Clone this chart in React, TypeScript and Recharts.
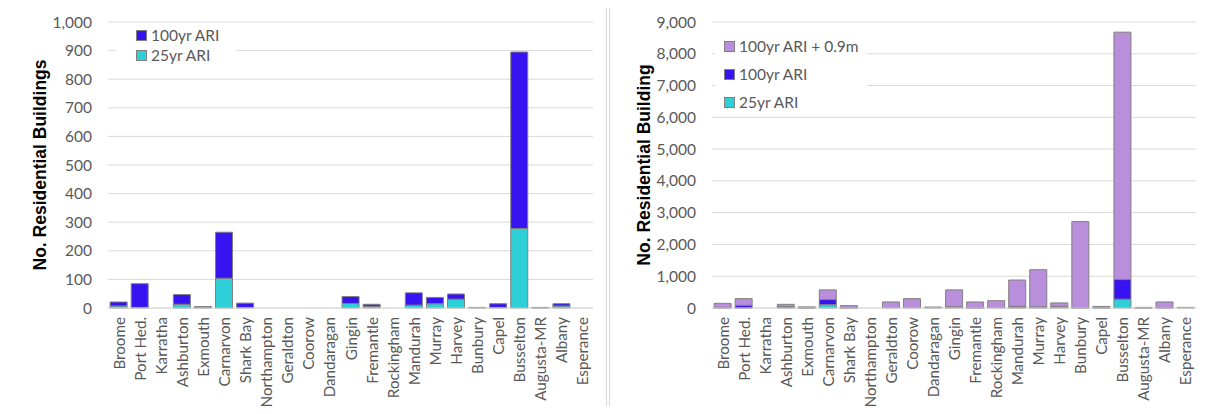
import React from 'react'
import { BarChart, Bar, XAxis, YAxis, CartesianGrid, Legend } from 'recharts'

const towns = [
  'Broome', 'Port Hed.', 'Karratha', 'Ashburton', 'Exmouth', 'Carnarvon', 'Shark Bay',
  'Northampton', 'Geraldton', 'Coorow', 'Dandaragan', 'Gingin', 'Fremantle', 'Rockingham',
  'Mandurah', 'Murray', 'Harvey', 'Bunbury', 'Capel', 'Busselton', 'Augusta-MR', 'Albany', 'Esperance',
]

// buildings affected, stacked increments: 25yr, extra for 100yr, extra for 100yr + 0.9m SLR
const ari25 = [7, 2, 0, 13, 2, 104, 2, 0, 0, 0, 0, 16, 6, 0, 10, 15, 31, 0, 2, 278, 1, 7, 0]
const ari100 = [14, 83, 0, 34, 3, 161, 15, 0, 0, 0, 0, 24, 7, 0, 43, 22, 18, 2, 13, 617, 1, 8, 0]
const ari100Slr = [126, 210, 0, 69, 30, 305, 58, 0, 190, 295, 30, 530, 177, 230, 827, 1168, 111, 2718, 35, 7785, 18, 175, 20]

const leftTicks = [0, 100, 200, 300, 400, 500, 600, 700, 800, 900, 1000]
const rightTicks = [0, 1000, 2000, 3000, 4000, 5000, 6000, 7000, 8000, 9000]

const rows = towns.map((name, i) => ({
  name,
  ari25: ari25[i],
  ari100: ari100[i],
  ari100Slr: ari100Slr[i],
}))

const CYAN = '#2ECFD6'
const BLUE = '#3613F0'
const PURPLE = '#B98EDB'
const EDGE = '#808080'
const GRID = '#D9D9D9'
const TXT = '#595959'
const FONT = 'Lato, "Open Sans", sans-serif'

const fmt = (v: number) => v.toLocaleString('en-US')

const CatTick = (props: any) => {
  const { x, y, payload } = props
  return (
    <text
      x={x}
      y={y}
      transform={`rotate(-90 ${x} ${y})`}
      textAnchor="end"
      dominantBaseline="central"
      fill={TXT}
      fontSize={15.2}
      fontFamily={FONT}
    >
      {payload.value}
    </text>
  )
}

const axisTitle = (text: string) => (props: any) => {
  const { viewBox } = props
  const cx = viewBox.x - 8
  const cy = viewBox.y + viewBox.height / 2
  return (
    <text
      x={cx}
      y={cy}
      transform={`rotate(-90 ${cx} ${cy})`}
      textAnchor="middle"
      dominantBaseline="central"
      fill="#000"
      fontSize={17.5}
      fontWeight="bold"
      fontFamily='"Liberation Sans", Arial, sans-serif'
    >
      {text}
    </text>
  )
}

type Item = { label: string; color: string }

const legendBox = (items: Item[], rowH: number, padLeft: number) => () => (
  <div style={{ background: '#fff', paddingLeft: padLeft }}>
    {items.map((it) => (
      <div key={it.label} style={{ height: rowH, display: 'flex', alignItems: 'center' }}>
        <span
          style={{
            display: 'inline-block',
            width: 9,
            height: 9,
            background: it.color,
            border: `1px solid ${EDGE}`,
            marginRight: 4,
          }}
        />
        <span style={{ fontFamily: FONT, fontSize: 15.5, color: TXT, whiteSpace: 'nowrap' }}>{it.label}</span>
      </div>
    ))}
  </div>
)

const panel = (left: number, width: number): React.CSSProperties => ({
  position: 'absolute',
  left,
  top: 4,
  width,
  height: 430,
  border: `1px solid ${GRID}`,
  boxSizing: 'border-box',
})

export default function App() {
  return (
    <div style={{ position: 'relative', width: 1206, height: 414, margin: -8, overflow: 'hidden', background: '#fff' }}>
      <div style={panel(6, 601)} />
      <div style={panel(609, 620)} />

      {/* 25yr and 100yr events */}
      <div style={{ position: 'absolute', left: 0, top: 0 }}>
        <BarChart width={607} height={414} data={rows} margin={{ top: 22, right: 14, bottom: 6, left: 48 }} barCategoryGap="10%">
          <CartesianGrid vertical={false} stroke={GRID} />
          <XAxis dataKey="name" interval={0} height={100} tickLine={false} tickSize={0} tickMargin={9} axisLine={{ stroke: GRID }} tick={<CatTick />} />
          <YAxis
            width={60}
            domain={[0, 1000]}
            ticks={leftTicks}
            tickFormatter={fmt}
            axisLine={false}
            tickLine={false}
            tickSize={0}
            tickMargin={16}
            tick={{ fill: TXT, fontSize: 15.5, fontFamily: FONT }}
            label={{ content: axisTitle('No. Residential Buildings') }}
          />
          <Legend
            layout="vertical"
            align="center"
            verticalAlign="middle"
            wrapperStyle={{ left: 116, top: 25, width: 120 }}
            content={legendBox([{ label: '100yr ARI', color: BLUE }, { label: '25yr ARI', color: CYAN }], 20, 20)}
          />
          <Bar dataKey="ari25" stackId="a" fill={CYAN} stroke={EDGE} strokeWidth={1} isAnimationActive={false} />
          <Bar dataKey="ari100" stackId="a" fill={BLUE} stroke={EDGE} strokeWidth={1} isAnimationActive={false} />
        </BarChart>
      </div>

      {/* with 0.9m sea level rise */}
      <div style={{ position: 'absolute', left: 600, top: 0 }}>
        <BarChart width={606} height={414} data={rows} margin={{ top: 22, right: 10, bottom: 6, left: 52 }} barCategoryGap="10%">
          <CartesianGrid vertical={false} stroke={GRID} />
          <XAxis dataKey="name" interval={0} height={100} tickLine={false} tickSize={0} tickMargin={9} axisLine={{ stroke: GRID }} tick={<CatTick />} />
          <YAxis
            width={60}
            domain={[0, 9000]}
            ticks={rightTicks}
            tickFormatter={fmt}
            axisLine={false}
            tickLine={false}
            tickSize={0}
            tickMargin={16}
            tick={{ fill: TXT, fontSize: 15.5, fontFamily: FONT }}
            label={{ content: axisTitle('No. Residential Building') }}
          />
          <Legend
            layout="vertical"
            align="center"
            verticalAlign="middle"
            wrapperStyle={{ left: 115, top: 32, width: 152 }}
            content={legendBox(
              [
                { label: '100yr ARI + 0.9m', color: PURPLE },
                { label: '100yr ARI', color: BLUE },
                { label: '25yr ARI', color: CYAN },
              ],
              28,
              9,
            )}
          />
          <Bar dataKey="ari25" stackId="a" fill={CYAN} stroke={EDGE} strokeWidth={1} isAnimationActive={false} />
          <Bar dataKey="ari100" stackId="a" fill={BLUE} stroke={EDGE} strokeWidth={1} isAnimationActive={false} />
          <Bar dataKey="ari100Slr" stackId="a" fill={PURPLE} stroke={EDGE} strokeWidth={1} isAnimationActive={false} />
        </BarChart>
      </div>
    </div>
  )
}
